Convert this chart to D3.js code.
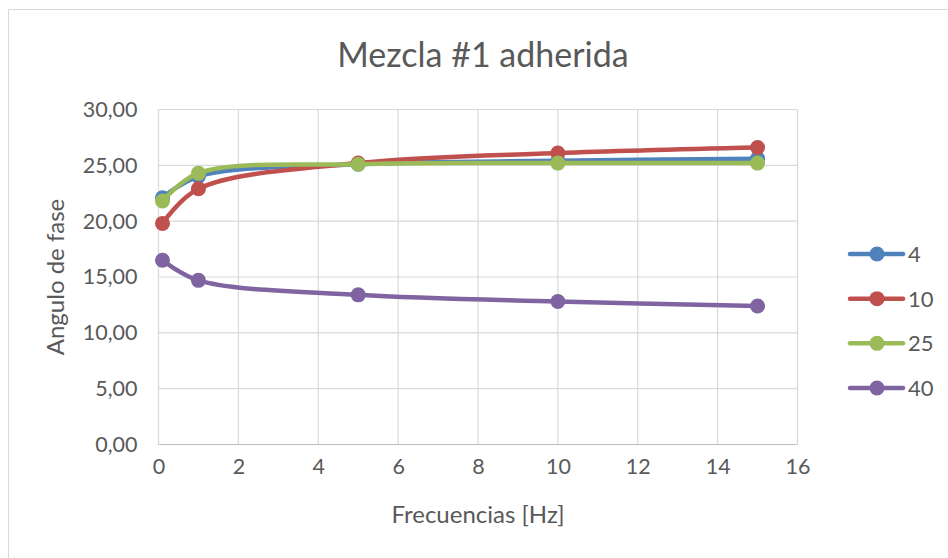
<!DOCTYPE html>
<html><head><meta charset="utf-8">
<script src="https://cdn.jsdelivr.net/npm/d3@7"></script>
<style>body{margin:0;background:#fff}svg{display:block;font-family:Lato,"Open Sans",sans-serif}</style>
</head><body><svg id="c" width="948" height="558"></svg>
<script>
const title = "Mezcla #1 adherida";
const xTitle = "Frecuencias [Hz]";
const yTitle = "Angulo de fase";
const frequencies = [0.1, 1, 5, 10, 15];
const seriesNames = ["4", "10", "25", "40"];
const s4  = [22.1, 24.0, 25.1, 25.4, 25.6];
const s10 = [19.8, 22.9, 25.2, 26.1, 26.6];
const s25 = [21.8, 24.3, 25.1, 25.2, 25.2];
const s40 = [16.5, 14.7, 13.4, 12.8, 12.4];
const colors = ["#4F81BD", "#C0504D", "#9BBB59", "#8064A2"];
const xTicks = [0, 2, 4, 6, 8, 10, 12, 14, 16];
const yTicks = [0, 5, 10, 15, 20, 25, 30];

const series = [s4, s10, s25, s40].map((v, i) => ({name: seriesNames[i], color: colors[i], values: v.map((y, j) => ({x: frequencies[j], y}))}));

const svg = d3.select("#c");
const x = d3.scaleLinear().domain([0, 16]).range([158.5, 797.5]);
const y = d3.scaleLinear().domain([0, 30]).range([444.5, 109.5]);
const txt = "#595959";

svg.append("rect").attr("x", 8.5).attr("y", 9.5).attr("width", 1000).attr("height", 1000)
  .attr("fill", "#fff").attr("stroke", "#d9d9d9").attr("stroke-width", 1);

// grid
svg.append("g").selectAll("line").data(yTicks).join("line")
  .attr("x1", x(0)).attr("x2", x(16)).attr("y1", d => y(d)).attr("y2", d => y(d))
  .attr("stroke", "#d9d9d9").attr("stroke-width", 1.2);
svg.append("g").selectAll("line").data(xTicks).join("line")
  .attr("y1", y(0)).attr("y2", y(30)).attr("x1", d => x(d)).attr("x2", d => x(d))
  .attr("stroke", "#d9d9d9").attr("stroke-width", 1.2);
svg.append("line").attr("x1", x(0)).attr("x2", x(16)).attr("y1", y(0)).attr("y2", y(0))
  .attr("stroke", "#bfbfbf").attr("stroke-width", 1.2);

// axes labels via d3 axes
const xa = svg.append("g").attr("transform", `translate(0,${y(0)})`)
  .call(d3.axisBottom(x).tickValues(xTicks).tickSize(0).tickPadding(14).tickFormat(d3.format("d")));
xa.select(".domain").remove();
xa.selectAll("text").attr("fill", txt).attr("font-size", 21.5).attr("font-family", "Lato").attr("dy", "0.71em");
const fmt = d => d.toFixed(2).replace(".", ",");
const ya = svg.append("g").attr("transform", `translate(${x(0)},0)`)
  .call(d3.axisLeft(y).tickValues(yTicks).tickSize(0).tickPadding(21).tickFormat(fmt));
ya.select(".domain").remove();
ya.selectAll("text").attr("fill", txt).attr("font-size", 21.5).attr("font-family", "Lato");

// titles
svg.append("text").attr("x", 483).attr("y", 67).attr("text-anchor", "middle")
  .attr("fill", txt).attr("font-size", 34).text(title);
svg.append("text").attr("x", 478).attr("y", 523).attr("text-anchor", "middle")
  .attr("fill", txt).attr("font-size", 24).text(xTitle);
svg.append("text").attr("transform", `translate(64,${(y(0)+y(30))/2}) rotate(-90)`).attr("text-anchor", "middle")
  .attr("fill", txt).attr("font-size", 24).text(yTitle);

// series
const line = d3.line().x(d => x(d.x)).y(d => y(d.y)).curve(d3.curveCatmullRom.alpha(0.5));
series.forEach(s => {
  const g = svg.append("g");
  g.append("path").attr("d", line(s.values)).attr("fill", "none").attr("stroke", s.color)
    .attr("stroke-width", 4.5).attr("stroke-linecap", "round");
  g.selectAll("circle").data(s.values).join("circle")
    .attr("cx", d => x(d.x)).attr("cy", d => y(d.y)).attr("r", 7.5).attr("fill", s.color);
});

// legend
const ly = d3.scalePoint().domain(seriesNames).range([254, 388]);
const lg = svg.append("g");
series.forEach(s => {
  const yy = ly(s.name);
  lg.append("line").attr("x1", 850).attr("x2", 903).attr("y1", yy).attr("y2", yy)
    .attr("stroke", s.color).attr("stroke-width", 4.5).attr("stroke-linecap", "round");
  lg.append("circle").attr("cx", 877).attr("cy", yy).attr("r", 7.5).attr("fill", s.color);
  lg.append("text").attr("x", 908).attr("y", yy).attr("dy", "0.36em").attr("fill", txt)
    .attr("font-size", 22).text(s.name);
});
</script></body></html>
